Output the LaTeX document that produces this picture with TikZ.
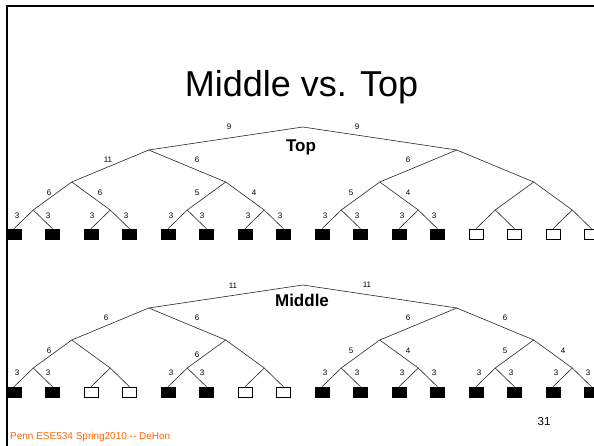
\documentclass[tikz,border=0pt]{standalone}
\usepackage{fontspec}
\setmainfont{Liberation Sans}
\definecolor{footorange}{RGB}{255,102,0}
\tikzset{
  edge/.style={line width=0.6pt, draw=black!85},
  lbl/.style={font=\fontsize{8}{9}\selectfont, inner sep=0pt},
  leafB/.style={draw, fill=black, line width=0.5pt, minimum width=14pt, minimum height=10pt, inner sep=0pt},
  leafW/.style={draw, fill=white, line width=0.5pt, minimum width=14pt, minimum height=10pt, inner sep=0pt},
  frameline/.style={line width=2pt}
}
\newcommand{\mytree}[3]{%
  % #1 prefix, #2 y offset, #3 list i/fill for leaves
  \coordinate (#1r) at (302.75,#2+127);
  \foreach \m in {0,1}{\coordinate (#1a\m) at ({148.75+308*\m},#2+150);}
  \foreach \k in {0,...,3}{\coordinate (#1b\k) at ({71.75+154*\k},#2+182);}
  \foreach \j in {0,...,7}{\coordinate (#1c\j) at ({33.25+77*\j},#2+210);}
  \foreach \i/\f in {#3}{\node[leaf\f] (#1d\i) at ({14+38.5*\i},#2+234) {};}
  \draw[edge] (#1r) -- (#1a0);
  \draw[edge] (#1r) -- (#1a1);
  \foreach \m [evaluate=\m as \p using int(2*\m), evaluate=\m as \q using int(2*\m+1)] in {0,1}{
    \draw[edge] (#1a\m) -- (#1b\p);
    \draw[edge] (#1a\m) -- (#1b\q);}
  \foreach \k [evaluate=\k as \p using int(2*\k), evaluate=\k as \q using int(2*\k+1)] in {0,...,3}{
    \draw[edge] (#1b\k) -- (#1c\p);
    \draw[edge] (#1b\k) -- (#1c\q);}
  \foreach \j [evaluate=\j as \p using int(2*\j), evaluate=\j as \q using int(2*\j+1)] in {0,...,7}{
    \draw[edge] (#1c\j) -- (#1d\p.north);
    \draw[edge] (#1c\j) -- (#1d\q.north);}
}
\begin{document}
\begin{tikzpicture}[x=1pt,y=-1pt]
\useasboundingbox (0,0) rectangle (594,446);
\fill[white] (0,0) rectangle (594,446);
% frame
\coordinate (fc) at (7,6);
\coordinate (ftr) at (594,6);
\coordinate (fbl) at (7,446);
\draw[frameline] (ftr) -- (fc) -- (fbl);
% title
\node[font=\fontsize{36}{40}\selectfont, anchor=base] (title) at (301.5,97) {Middle vs. Top};
% trees
\mytree{t}{0}{0/B,1/B,2/B,3/B,4/B,5/B,6/B,7/B,8/B,9/B,10/B,11/B,12/W,13/W,14/W,15/W}
\mytree{m}{158}{0/B,1/B,2/W,3/W,4/B,5/B,6/W,7/W,8/B,9/B,10/B,11/B,12/B,13/B,14/B,15/B}
% tree names
\node[font=\bfseries\fontsize{17}{19}\selectfont, inner sep=0pt] (toplab) at (301,147) {Top};
\node[font=\bfseries\fontsize{17}{19}\selectfont, inner sep=0pt] (midlab) at (302,300) {Middle};
% top labels
\foreach \x/\y/\t [count=\n] in {229/127/9, 357/127/9, 108/160/11, 197/160/6, 408/160/6,
  49/193/6, 100/193/6, 197/193/5, 254/193/4, 351/193/5, 408/193/4,
  17/216/3, 48/216/3, 92/216/3, 126/216/3, 171/216/3, 202/216/3, 248/216/3, 280/216/3,
  325/216/3, 357/216/3, 402/216/3, 434/216/3}
  \node[lbl] (tl\n) at (\x,\y) {\t};
% middle labels
\foreach \x/\y/\t [count=\n] in {233/286/11, 367/285/11, 106/318/6, 197/318/6, 408/318/6, 505/318/6,
  49/351/6, 197/355/6, 351/351/5, 408/351/4, 505/351/5, 563/351/4,
  17/373/3, 48/373/3, 171/373/3, 202/373/3, 325/373/3, 357/373/3, 402/373/3, 434/373/3,
  479/373/3, 511/373/3, 556/373/3, 588/373/3}
  \node[lbl] (ml\n) at (\x,\y) {\t};
% footer
\node[font=\fontsize{10}{12}\selectfont, text=footorange, anchor=base west, inner sep=0pt] (foot) at (10,439) {Penn ESE534 Spring2010 -{}- DeHon};
\node[font=\fontsize{11.5}{13}\selectfont, anchor=base, inner sep=0pt] (pg) at (544,425) {31};
\end{tikzpicture}
\end{document}
